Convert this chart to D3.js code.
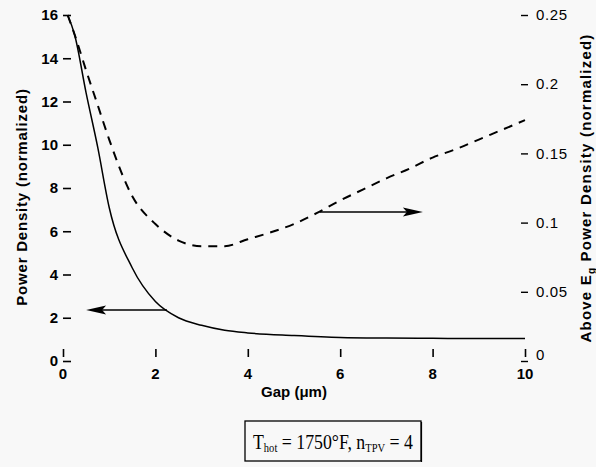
<!DOCTYPE html>
<html><head><meta charset="utf-8">
<script src="https://cdn.jsdelivr.net/npm/d3@7"></script>
<style>body{margin:0;background:#f8f8f8}svg{display:block}</style>
</head><body><svg id="c" width="596" height="467"></svg>
<script>
// ---- data ----
const gapSolid = [0.1,0.25,0.5,0.75,1.0,1.5,2.0,2.5,3.0,3.5,4.0,5.0,6.0,7.0,8.0,9.0,10.0];
const powerDensity = [16.0,15.1,12.4,9.9,7.1,4.3,2.75,2.0,1.65,1.42,1.3,1.18,1.09,1.06,1.05,1.04,1.04];
const gapDashed = [0.1,0.25,0.5,0.75,1.0,1.5,2.0,2.5,3.0,3.5,4.0,4.5,5.0,5.5,6.0,6.5,7.0,7.5,8.0,8.5,9.0,9.5,10.0];
const aboveEgDensity = [0.25,0.236,0.21,0.185,0.16,0.119,0.099,0.087,0.083,0.083,0.088,0.093,0.099,0.107,0.116,0.124,0.132,0.139,0.147,0.153,0.160,0.167,0.174];
const xTicks = [0,2,4,6,8,10];
const leftTicks = [0,2,4,6,8,10,12,14,16];
const rightTicks = [0,0.05,0.1,0.15,0.2,0.25];
const rightTickLabels = ["0","0.05","0.1","0.15","0.2","0.25"];
const leftArrowX = [2.25,0.5], leftArrowY = 2.36;
const rightArrowX = [5.56,7.79], rightArrowY = 0.1077;

const svg = d3.select("#c");
const x = d3.scaleLinear().domain([0,10]).range([63,525]);
const yL = d3.scaleLinear().domain([0,16]).range([361,15]);
const yR = d3.scaleLinear().domain([0,0.25]).range([361,15]);
const font = "Arial, 'Liberation Sans', sans-serif";

// left axis
const gl = svg.append("g").attr("transform","translate(63,0)")
  .call(d3.axisRight(yL).tickValues(leftTicks).tickSize(8).tickFormat(""));
gl.select(".domain").remove();
gl.selectAll("line").attr("stroke","#000").attr("stroke-width",1.6);
svg.append("g").selectAll("text").data(leftTicks).join("text")
  .attr("x",58).attr("y",d=>yL(d)).attr("dy","0.35em").attr("text-anchor","end")
  .attr("font-family",font).attr("font-weight","bold").attr("font-size",15).text(d=>d);

// right axis
const gr = svg.append("g").attr("transform","translate(528,0)")
  .call(d3.axisLeft(yR).tickValues(rightTicks).tickSize(7).tickFormat(""));
gr.select(".domain").remove();
gr.selectAll("line").attr("stroke","#000").attr("stroke-width",1.4);
svg.append("g").selectAll("text").data(rightTicks).join("text")
  .attr("x",536).attr("y",(d,i)=> i===0 ? yR(d)-6 : yR(d)).attr("dy","0.35em")
  .attr("font-family",font).attr("font-size",15).attr("letter-spacing","0.6px")
  .text((d,i)=>rightTickLabels[i]);

// bottom axis
const gb = svg.append("g").attr("transform","translate(0,357)")
  .call(d3.axisTop(x).tickValues(xTicks).tickSize(8).tickFormat(""));
gb.select(".domain").remove();
gb.selectAll("line").attr("stroke","#000").attr("stroke-width",1.6);
svg.append("g").selectAll("text").data(xTicks).join("text")
  .attr("x",d=>x(d)).attr("y",374).attr("dy","0.35em").attr("text-anchor","middle")
  .attr("font-family",font).attr("font-weight","bold").attr("font-size",15).text(d=>d);

// curves
svg.append("path").datum(gapSolid.map((g,i)=>[g,powerDensity[i]]))
  .attr("fill","none").attr("stroke","#000").attr("stroke-width",1.5)
  .attr("d",d3.line().x(d=>x(d[0])).y(d=>yL(d[1])).curve(d3.curveMonotoneX));
svg.append("path").datum(gapDashed.map((g,i)=>[g,aboveEgDensity[i]]))
  .attr("fill","none").attr("stroke","#000").attr("stroke-width",2)
  .attr("stroke-dasharray","9,7")
  .attr("d",d3.line().x(d=>x(d[0])).y(d=>yR(d[1])).curve(d3.curveMonotoneX));

// arrows
function arrow(x0,x1,py){
  const a = x(x0), b = x(x1), dir = Math.sign(b-a);
  svg.append("line").attr("x1",a).attr("x2",b-dir*10).attr("y1",py).attr("y2",py)
    .attr("stroke","#000").attr("stroke-width",1.4);
  svg.append("path").attr("fill","#000")
    .attr("d",`M${b},${py} L${b-dir*20},${py-4.5} L${b-dir*16},${py} L${b-dir*20},${py+4.5} Z`);
}
arrow(leftArrowX[0],leftArrowX[1],yL(leftArrowY));
arrow(rightArrowX[0],rightArrowX[1],yR(rightArrowY));

// axis titles
svg.append("text").attr("transform","translate(294,392)").attr("text-anchor","middle").attr("dy","0.35em")
  .attr("font-family",font).attr("font-weight","bold").attr("font-size",15).text("Gap (\u03bcm)");
svg.append("text").attr("transform","translate(22,197) rotate(-90)").attr("text-anchor","middle").attr("dy","0.35em")
  .attr("font-family",font).attr("font-weight","bold").attr("font-size",15).attr("letter-spacing","0.8px")
  .text("Power Density (normalized)");
const rt = svg.append("text").attr("transform","translate(586,188) rotate(-90)").attr("text-anchor","middle").attr("dy","0.35em")
  .attr("font-family",font).attr("font-weight","bold").attr("font-size",15).attr("letter-spacing","1.2px");
rt.append("tspan").text("Above E");
rt.append("tspan").attr("font-size",10).attr("dy","4").text("g");
rt.append("tspan").attr("dy","-4").text(" Power Density (normalized)");

// annotation box
svg.append("rect").attr("x",245).attr("y",421).attr("width",176).attr("height",40)
  .attr("fill","none").attr("stroke","#000").attr("stroke-width",1.3);
svg.append("line").attr("x1",421.5).attr("x2",421.5).attr("y1",422).attr("y2",462)
  .attr("stroke","#000").attr("stroke-width",1.2);
const serif = "'Times New Roman','Liberation Serif',serif";
const bg = svg.append("g");
const bt = bg.append("text").attr("x",0).attr("y",0)
  .attr("font-family",serif).attr("font-size",22);
bt.append("tspan").text("T");
bt.append("tspan").attr("font-size",13).attr("dy",3).text("hot");
bt.append("tspan").attr("dy",-3).text(" = 1750\u00b0F, n");
bt.append("tspan").attr("font-size",13).attr("dy",3).text("TPV");
bt.append("tspan").attr("dy",-3).text(" = 4");
const bw = bt.node().getBBox().width;
const sx = 160 / bw;
bg.attr("transform",`translate(253,449) scale(${sx},1)`);
</script></body></html>
